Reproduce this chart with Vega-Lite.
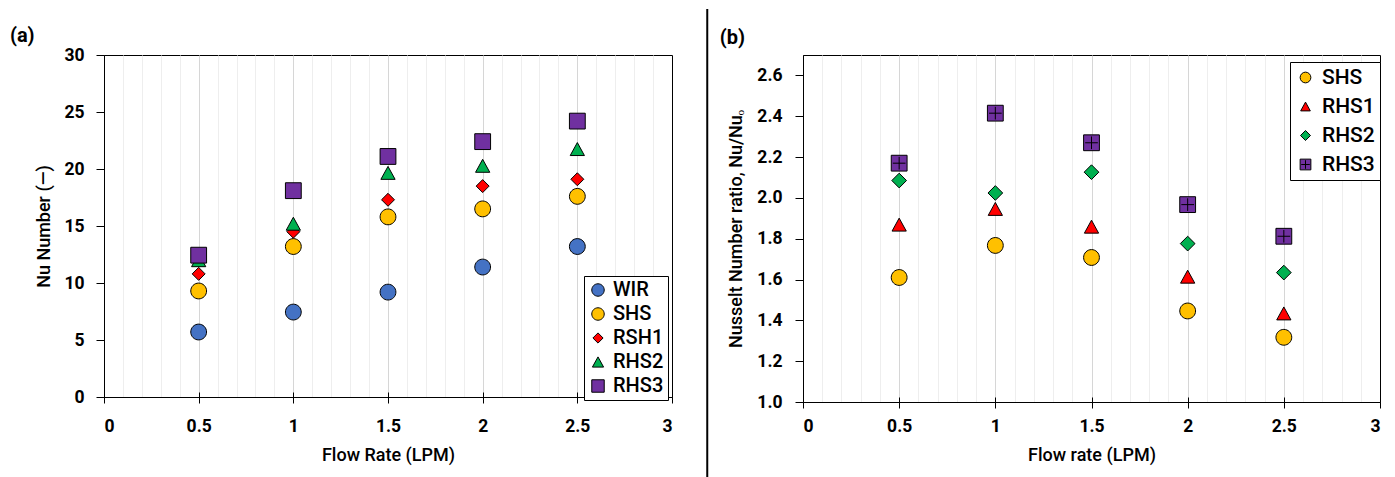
{
  "$schema": "https://vega.github.io/schema/vega-lite/v6.json",
  "background": "white",
  "padding": {"left": 9, "top": 8, "right": 0, "bottom": 0},
  "spacing": 10,
  "resolve": {"scale": {"fill": "independent", "shape": "independent", "stroke": "independent"}, "legend": {"fill": "independent", "shape": "independent", "stroke": "independent"}},
  "config": {
    "view": {"stroke": "black", "strokeWidth": 1},
    "font": "Roboto",
    "axis": {
      "labelFont": "Roboto", "labelFontSize": 17.5, "labelFontWeight": "bold", "labelColor": "black",
      "titleFont": "Roboto", "titleFontSize": 18, "titleFontWeight": 500, "titleColor": "black",
      "domainColor": "black", "tickColor": "black", "gridColor": "#d6d6d6", "gridWidth": 1
    },
    "legend": {
      "labelFont": "Roboto", "labelFontWeight": 500, "labelColor": "black",
      "strokeColor": "black", "fillColor": "white", "symbolStrokeWidth": 1
    },
    "title": {"font": "Roboto", "fontSize": 20, "fontWeight": "bold", "color": "black"}
  },
  "datasets": {
    "a": [
      {"flow": 0.5, "series": "WIR", "nu": 5.7},
      {"flow": 1.0, "series": "WIR", "nu": 7.45},
      {"flow": 1.5, "series": "WIR", "nu": 9.2},
      {"flow": 2.0, "series": "WIR", "nu": 11.4},
      {"flow": 2.5, "series": "WIR", "nu": 13.2},
      {"flow": 0.5, "series": "SHS", "nu": 9.3},
      {"flow": 1.0, "series": "SHS", "nu": 13.2},
      {"flow": 1.5, "series": "SHS", "nu": 15.8},
      {"flow": 2.0, "series": "SHS", "nu": 16.5},
      {"flow": 2.5, "series": "SHS", "nu": 17.6},
      {"flow": 0.5, "series": "RSH1", "nu": 10.8},
      {"flow": 1.0, "series": "RSH1", "nu": 14.5},
      {"flow": 1.5, "series": "RSH1", "nu": 17.3},
      {"flow": 2.0, "series": "RSH1", "nu": 18.5},
      {"flow": 2.5, "series": "RSH1", "nu": 19.1},
      {"flow": 0.5, "series": "RHS2", "nu": 12.0},
      {"flow": 1.0, "series": "RHS2", "nu": 15.2},
      {"flow": 1.5, "series": "RHS2", "nu": 19.66},
      {"flow": 2.0, "series": "RHS2", "nu": 20.28},
      {"flow": 2.5, "series": "RHS2", "nu": 21.75},
      {"flow": 0.5, "series": "RHS3", "nu": 12.44},
      {"flow": 1.0, "series": "RHS3", "nu": 18.1},
      {"flow": 1.5, "series": "RHS3", "nu": 21.1},
      {"flow": 2.0, "series": "RHS3", "nu": 22.4},
      {"flow": 2.5, "series": "RHS3", "nu": 24.2}
    ],
    "b": [
      {"flow": 0.5, "series": "SHS", "ratio": 1.61},
      {"flow": 1.0, "series": "SHS", "ratio": 1.767},
      {"flow": 1.5, "series": "SHS", "ratio": 1.708},
      {"flow": 2.0, "series": "SHS", "ratio": 1.446},
      {"flow": 2.5, "series": "SHS", "ratio": 1.317},
      {"flow": 0.5, "series": "RHS1", "ratio": 1.869},
      {"flow": 1.0, "series": "RHS1", "ratio": 1.946},
      {"flow": 1.5, "series": "RHS1", "ratio": 1.859},
      {"flow": 2.0, "series": "RHS1", "ratio": 1.614},
      {"flow": 2.5, "series": "RHS1", "ratio": 1.434},
      {"flow": 0.5, "series": "RHS2", "ratio": 2.085},
      {"flow": 1.0, "series": "RHS2", "ratio": 2.024},
      {"flow": 1.5, "series": "RHS2", "ratio": 2.126},
      {"flow": 2.0, "series": "RHS2", "ratio": 1.776},
      {"flow": 2.5, "series": "RHS2", "ratio": 1.634},
      {"flow": 0.5, "series": "RHS3", "ratio": 2.17},
      {"flow": 1.0, "series": "RHS3", "ratio": 2.415},
      {"flow": 1.5, "series": "RHS3", "ratio": 2.27},
      {"flow": 2.0, "series": "RHS3", "ratio": 1.967},
      {"flow": 2.5, "series": "RHS3", "ratio": 1.812}
    ],
    "sep": [{"panel": "separator"}]
  },
  "hconcat": [
    {
      "width": 568,
      "height": 342,
      "title": {"text": "(a)", "anchor": "start", "frame": "bounds", "dx": -26, "offset": 0},
      "data": {"name": "a"},
      "layer": [
        {
          "mark": {"type": "point", "opacity": 0},
          "encoding": {
            "x": {"field": "flow", "type": "quantitative", "scale": {"domain": [0, 3]},
              "axis": {"orient": "bottom", "values": [0.1,0.2,0.3,0.4,0.6,0.7,0.8,0.9,1.1,1.2,1.3,1.4,1.6,1.7,1.8,1.9,2.1,2.2,2.3,2.4,2.6,2.7,2.8,2.9],
                "grid": true, "gridColor": "#eeeeee", "domain": false, "ticks": false, "labels": false, "title": null}},
            "y": {"field": "nu", "type": "quantitative", "scale": {"domain": [0, 30]}, "axis": null}
          }
        },
        {
          "mark": {"type": "point", "opacity": 0},
          "encoding": {
            "x": {"field": "flow", "type": "quantitative", "scale": {"domain": [0, 3]},
              "axis": {"orient": "bottom", "values": [0,0.5,1,1.5,2,2.5,3], "grid": false, "domain": false, "labels": false, "ticks": true, "tickSize": -5, "title": null}},
            "y": {"field": "nu", "type": "quantitative", "scale": {"domain": [0, 30]}, "axis": null}
          }
        },
        {
          "mark": {"type": "point", "filled": true, "strokeWidth": 1, "size": 250, "opacity": 1},
          "encoding": {
            "x": {"field": "flow", "type": "quantitative", "scale": {"domain": [0, 3]},
              "axis": {"orient": "bottom", "values": [0,0.5,1,1.5,2,2.5,3], "format": "~g", "grid": true,
                "gridColor": {"condition": {"test": "datum.value === 0 || datum.value === 3", "value": "transparent"}, "value": "#d6d6d6"},
                "tickSize": 6, "labelPadding": 14, "title": "Flow Rate (LPM)", "titlePadding": 12}},
            "y": {"field": "nu", "type": "quantitative", "scale": {"domain": [0, 30]},
              "axis": {"orient": "left", "values": [0,5,10,15,20,25,30], "tickSize": 8, "labelPadding": 12, "title": "Nu Number (—)", "titlePadding": 10,
                "gridColor": {"condition": {"test": "datum.value === 0 || datum.value === 30", "value": "transparent"}, "value": "#d6d6d6"}}},
            "fill": {"field": "series", "type": "nominal",
              "scale": {"domain": ["WIR","SHS","RSH1","RHS2","RHS3"], "range": ["#4472C4","#FFC000","#FF0000","#00B050","#7030A0"]},
              "legend": {"title": null, "orient": "none", "legendX": 480, "legendY": 221, "padding": 4, "labelFontSize": 20, "symbolSize": 155, "rowPadding": 4, "labelOffset": 5}},
            "stroke": {"field": "series", "type": "nominal",
              "scale": {"domain": ["WIR","SHS","RSH1","RHS2","RHS3"], "range": ["#000000","#000000","#000000","#000000","#000000"]},
              "legend": {"title": null, "orient": "none", "legendX": 480, "legendY": 221, "padding": 4, "labelFontSize": 20, "symbolSize": 155, "rowPadding": 4, "labelOffset": 5}},
            "shape": {"field": "series", "type": "nominal",
              "scale": {"domain": ["WIR","SHS","RSH1","RHS2","RHS3"], "range": [
                "M1,0A1,1,0,1,1,-1,0A1,1,0,1,1,1,0Z",
                "M1,0A1,1,0,1,1,-1,0A1,1,0,1,1,1,0Z",
                "M0,-0.82L0.82,0L0,0.82L-0.82,0Z",
                "M0,-0.82L0.9,0.82L-0.9,0.82Z",
                "square"]},
              "legend": {"title": null, "orient": "none", "legendX": 480, "legendY": 221, "padding": 4, "labelFontSize": 20, "symbolSize": 155, "rowPadding": 4, "labelOffset": 5}}
          }
        }
      ],
      "resolve": {"axis": {"x": "independent", "y": "independent"}}
    },
    {
      "width": 25,
      "height": 400,
      "view": {"stroke": null},
      "data": {"name": "sep"},
      "mark": {"type": "rule", "color": "black", "strokeWidth": 2},
      "encoding": {
        "x": {"datum": 0.97, "type": "quantitative", "scale": {"domain": [0, 1]}, "axis": null},
        "y": {"datum": 1.115, "type": "quantitative", "scale": {"domain": [0, 1]}, "axis": null},
        "y2": {"datum": -0.055}
      }
    },
    {
      "width": 577,
      "height": 347,
      "title": {"text": "(b)", "anchor": "start", "frame": "bounds", "dx": -8, "offset": 7},
      "data": {"name": "b"},
      "layer": [
        {
          "mark": {"type": "point", "opacity": 0},
          "encoding": {
            "x": {"field": "flow", "type": "quantitative", "scale": {"domain": [0, 3]},
              "axis": {"orient": "bottom", "values": [0.1,0.2,0.3,0.4,0.6,0.7,0.8,0.9,1.1,1.2,1.3,1.4,1.6,1.7,1.8,1.9,2.1,2.2,2.3,2.4,2.6,2.7,2.8,2.9],
                "grid": true, "gridColor": "#eeeeee", "domain": false, "ticks": false, "labels": false, "title": null}},
            "y": {"field": "ratio", "type": "quantitative", "scale": {"domain": [1, 2.7]}, "axis": null}
          }
        },
        {
          "mark": {"type": "point", "opacity": 0},
          "encoding": {
            "x": {"field": "flow", "type": "quantitative", "scale": {"domain": [0, 3]},
              "axis": {"orient": "bottom", "values": [0,0.5,1,1.5,2,2.5,3], "grid": false, "domain": false, "labels": false, "ticks": true, "tickSize": -5, "title": null}},
            "y": {"field": "ratio", "type": "quantitative", "scale": {"domain": [1, 2.7]}, "axis": null}
          }
        },
        {
          "mark": {"type": "point", "filled": true, "strokeWidth": 1, "size": 250, "opacity": 1},
          "encoding": {
            "x": {"field": "flow", "type": "quantitative", "scale": {"domain": [0, 3]},
              "axis": {"orient": "bottom", "values": [0,0.5,1,1.5,2,2.5,3], "format": "~g", "grid": true,
                "gridColor": {"condition": {"test": "datum.value === 0 || datum.value === 3", "value": "transparent"}, "value": "#d6d6d6"},
                "tickSize": 6, "labelPadding": 9, "title": "Flow rate (LPM)", "titlePadding": 12}},
            "y": {"field": "ratio", "type": "quantitative", "scale": {"domain": [1, 2.7]},
              "axis": {"orient": "left", "values": [1,1.2,1.4,1.6,1.8,2,2.2,2.4,2.6], "format": ".1f", "tickSize": 8, "labelPadding": 13, "title": "Nusselt Number ratio, Nu/Nuₒ", "titlePadding": 11,
                "gridColor": {"condition": {"test": "datum.value === 1", "value": "transparent"}, "value": "#d6d6d6"}}},
            "fill": {"field": "series", "type": "nominal",
              "scale": {"domain": ["SHS","RHS1","RHS2","RHS3"], "range": ["#FFC000","#FF0000","#00B050","#7030A0"]},
              "legend": {"title": null, "orient": "none", "legendX": 487, "legendY": 7, "padding": 5, "labelFontSize": 21, "symbolSize": 115, "rowPadding": 7, "labelOffset": 6}},
            "stroke": {"field": "series", "type": "nominal",
              "scale": {"domain": ["SHS","RHS1","RHS2","RHS3"], "range": ["#000000","#000000","#000000","#000000"]},
              "legend": {"title": null, "orient": "none", "legendX": 487, "legendY": 7, "padding": 5, "labelFontSize": 21, "symbolSize": 115, "rowPadding": 7, "labelOffset": 6}},
            "shape": {"field": "series", "type": "nominal",
              "scale": {"domain": ["SHS","RHS1","RHS2","RHS3"], "range": [
                "M1,0A1,1,0,1,1,-1,0A1,1,0,1,1,1,0Z",
                "M0,-0.82L0.9,0.82L-0.9,0.82Z",
                "M0,-0.93L0.93,0L0,0.93L-0.93,0Z",
                "M-1,-1L1,-1L1,1L-1,1ZM-0.8,0L0.8,0M0,-0.8L0,0.8"]},
              "legend": {"title": null, "orient": "none", "legendX": 487, "legendY": 7, "padding": 5, "labelFontSize": 21, "symbolSize": 115, "rowPadding": 7, "labelOffset": 6}}
          }
        }
      ],
      "resolve": {"axis": {"x": "independent", "y": "independent"}}
    }
  ]
}
